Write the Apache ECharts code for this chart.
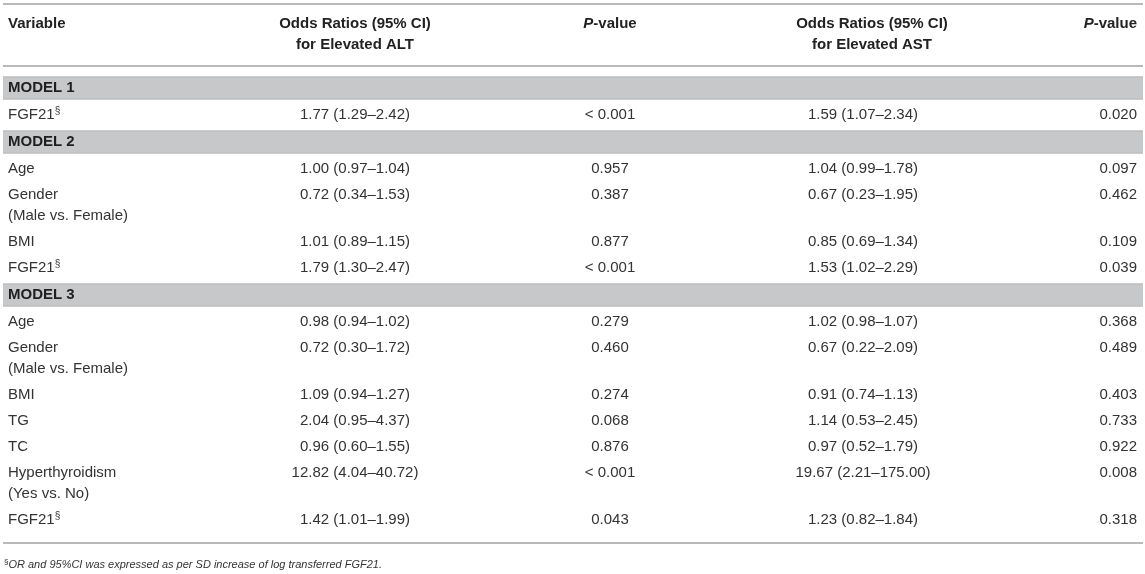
<!DOCTYPE html>
<html><head><meta charset="utf-8">
<script src="https://cdn.jsdelivr.net/npm/echarts@6/dist/echarts.min.js"></script>
<style>html,body{margin:0;padding:0;background:#fff}#c{width:1145px;height:574px}</style>
</head><body><div id="c"></div>
<script>
// ---- table content ----
const modelNames = ['MODEL 1', 'MODEL 2', 'MODEL 3'];
const rowModel = [0, 1, 1, 1, 1, 2, 2, 2, 2, 2, 2, 2];
const variables = ['FGF21§', 'Age', 'Gender', 'BMI', 'FGF21§', 'Age', 'Gender', 'BMI', 'TG', 'TC', 'Hyperthyroidism', 'FGF21§'];
const variableNotes = ['', '', '(Male vs. Female)', '', '', '', '(Male vs. Female)', '', '', '', '(Yes vs. No)', ''];
const orALT = [1.77, 1.00, 0.72, 1.01, 1.79, 0.98, 0.72, 1.09, 2.04, 0.96, 12.82, 1.42];
const ciLowALT = [1.29, 0.97, 0.34, 0.89, 1.30, 0.94, 0.30, 0.94, 0.95, 0.60, 4.04, 1.01];
const ciHighALT = [2.42, 1.04, 1.53, 1.15, 2.47, 1.02, 1.72, 1.27, 4.37, 1.55, 40.72, 1.99];
const pALT = ['< 0.001', '0.957', '0.387', '0.877', '< 0.001', '0.279', '0.460', '0.274', '0.068', '0.876', '< 0.001', '0.043'];
const orAST = [1.59, 1.04, 0.67, 0.85, 1.53, 1.02, 0.67, 0.91, 1.14, 0.97, 19.67, 1.23];
const ciLowAST = [1.07, 0.99, 0.23, 0.69, 1.02, 0.98, 0.22, 0.74, 0.53, 0.52, 2.21, 0.82];
const ciHighAST = [2.34, 1.78, 1.95, 1.34, 2.29, 1.07, 2.09, 1.13, 2.45, 1.79, 175.00, 1.84];
const pAST = ['0.020', '0.097', '0.462', '0.109', '0.039', '0.368', '0.489', '0.403', '0.733', '0.922', '0.008', '0.318'];
const headerVariable = 'Variable';
const headerOR = ['Odds Ratios (95% CI)', 'for Elevated ALT', 'for Elevated AST'];
const headerP = 'P-value';
const footnote = 'OR and 95%CI was expressed as per SD increase of log transferred FGF21.';

// ---- layout (styling) ----
const FONT = '"Liberation Sans", Arial, Helvetica, sans-serif';
const W = 1145, H = 574;
const LEFT = 3, RIGHT = 1143;
const COL_VAR = 8, COL_ALT = 355, COL_P1 = 610, COL_AST_HEAD = 872, COL_AST = 863, COL_P2 = 1137;
const TOP_RULE = 4, HEAD_L1 = 24, HEAD_RULE = 66;
const BODY_START = 74, BAND_ROW = 28, BAND_H = 23, ROW = 26, EXTRA = 21;
const BOTTOM_GAP = 10, FOOT_GAP = 22;

const fmt = v => v.toFixed(2);
const items = [];
items.push({ kind: 'rule', y: TOP_RULE });
items.push({ kind: 'header', y: HEAD_L1 });
items.push({ kind: 'rule', y: HEAD_RULE });
let yCur = BODY_START, lastModel = -1;
for (let i = 0; i < variables.length; i++) {
  if (rowModel[i] !== lastModel) {
    lastModel = rowModel[i];
    items.push({ kind: 'band', y: yCur + BAND_ROW / 2, m: lastModel });
    yCur += BAND_ROW;
  }
  items.push({ kind: 'row', y: yCur + ROW / 2, i });
  yCur += ROW + (variableNotes[i] ? EXTRA : 0);
}
items.push({ kind: 'rule', y: yCur + BOTTOM_GAP });
items.push({ kind: 'foot', y: yCur + BOTTOM_GAP + FOOT_GAP });

const baseStyle = { fontSize: 15, fontFamily: FONT, fill: '#333', verticalAlign: 'middle', align: 'left' };
function T(x, y, text, extra) {
  return { type: 'text', x, y, style: Object.assign({}, baseStyle, { text }, extra || {}) };
}
function varText(name) {
  if (name.endsWith('§')) {
    return {
      text: '{m|' + name.slice(0, -1) + '}{s|§}',
      rich: {
        m: { fontSize: 15, fontFamily: FONT, fill: '#333', lineHeight: 18 },
        s: { fontSize: 10, fontFamily: FONT, fill: '#333', lineHeight: 13, verticalAlign: 'top' }
      }
    };
  }
  return { text: name };
}
const pRich = {
  pi: { fontSize: 15, fontFamily: FONT, fontWeight: 'bold', fontStyle: 'italic', fill: '#222' },
  pv: { fontSize: 15, fontFamily: FONT, fontWeight: 'bold', fill: '#222' }
};
const pHead = '{pi|' + headerP.slice(0, 1) + '}{pv|' + headerP.slice(1) + '}';

function renderItem(params, api) {
  const it = items[params.dataIndex];
  const y = api.coord([0, api.value(1)])[1];
  const X = v => api.coord([v, 0])[0];
  const ch = [];
  if (it.kind === 'rule') {
    ch.push({ type: 'rect', shape: { x: X(LEFT), y: y - 1, width: X(RIGHT) - X(LEFT), height: 2 }, style: { fill: '#b9b9bb' } });
  } else if (it.kind === 'header') {
    const bold = { fontWeight: 'bold', fill: '#222' };
    ch.push(T(X(COL_VAR), y, headerVariable, bold));
    ch.push(T(X(COL_ALT), y - 10.5, headerOR[0] + '\n' + headerOR[1], Object.assign({ align: 'center', verticalAlign: 'top', lineHeight: 21 }, bold)));
    ch.push(T(X(COL_AST_HEAD), y - 10.5, headerOR[0] + '\n' + headerOR[2], Object.assign({ align: 'center', verticalAlign: 'top', lineHeight: 21 }, bold)));
    ch.push(T(X(COL_P1), y, pHead, { align: 'center', rich: pRich }));
    ch.push(T(X(COL_P2), y, pHead, { align: 'right', rich: pRich }));
  } else if (it.kind === 'band') {
    ch.push({ type: 'rect', shape: { x: X(LEFT), y: y - BAND_H / 2, width: X(RIGHT) - X(LEFT), height: BAND_H }, style: { fill: '#c7c8ca' } });
    ch.push({ type: 'rect', shape: { x: X(LEFT), y: y - BAND_H / 2, width: X(RIGHT) - X(LEFT), height: 1 }, style: { fill: '#b6b7b9' } });
    ch.push({ type: 'rect', shape: { x: X(LEFT), y: y + BAND_H / 2 - 1, width: X(RIGHT) - X(LEFT), height: 1 }, style: { fill: '#b6b7b9' } });
    ch.push(T(X(COL_VAR), y, modelNames[it.m], { fontWeight: 'bold', fill: '#1f1f1f' }));
  } else if (it.kind === 'row') {
    const i = it.i;
    ch.push(T(X(COL_VAR), y, null, varText(variables[i])));
    if (variableNotes[i]) ch.push(T(X(COL_VAR), y + EXTRA, variableNotes[i]));
    ch.push(T(X(COL_ALT), y, fmt(orALT[i]) + ' (' + fmt(ciLowALT[i]) + '–' + fmt(ciHighALT[i]) + ')', { align: 'center' }));
    ch.push(T(X(COL_P1), y, pALT[i], { align: 'center' }));
    ch.push(T(X(COL_AST), y, fmt(orAST[i]) + ' (' + fmt(ciLowAST[i]) + '–' + fmt(ciHighAST[i]) + ')', { align: 'center' }));
    ch.push(T(X(COL_P2), y, pAST[i], { align: 'right' }));
  } else if (it.kind === 'foot') {
    ch.push(T(X(4), y, '{s|§}{t|' + footnote + '}', {
      rich: {
        s: { fontSize: 8, fontFamily: FONT, fill: '#333', lineHeight: 9, verticalAlign: 'top' },
        t: { fontSize: 11, fontFamily: FONT, fontStyle: 'italic', fill: '#333', lineHeight: 15 }
      }
    }));
  }
  return { type: 'group', children: ch };
}

const chart = echarts.init(document.getElementById('c'), null, { renderer: 'canvas' });
chart.setOption({
  animation: false,
  backgroundColor: '#fff',
  grid: { left: 0, right: 0, top: 0, bottom: 0 },
  xAxis: { type: 'value', min: 0, max: W, show: false },
  yAxis: { type: 'value', min: 0, max: H, inverse: true, show: false },
  series: [{
    type: 'custom',
    renderItem,
    clip: false,
    silent: true,
    data: items.map(it => [0, it.y])
  }]
});
</script>
</body></html>
